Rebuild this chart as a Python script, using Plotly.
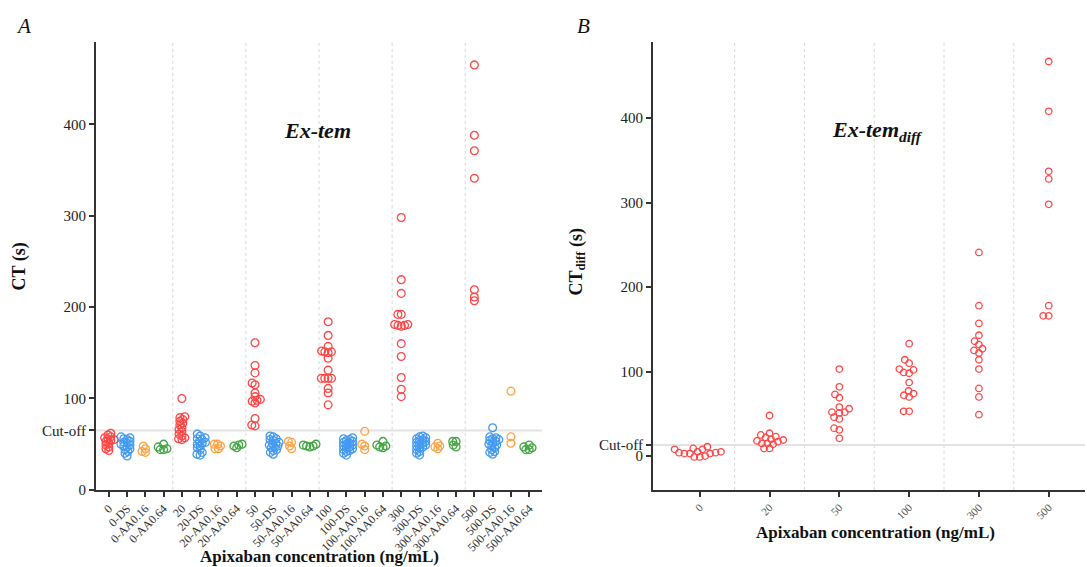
import numpy as np
import plotly.graph_objects as go

# ---------------- data ----------------
conc = ["0", "20", "50", "100", "300", "500"]
suffixes = ["", "-DS", "-AA0.16", "-AA0.64"]
cut_off_A = 65
cut_off_B = 13

# Panel A: CT (s)
ct_0 = [62, 60, 58, 57, 56, 55, 54, 53, 51, 49, 47, 45, 43]
ct_0_ds = [58, 57, 56, 55, 53, 52, 51, 50, 49, 48, 47, 45, 44, 42, 40, 37]
ct_0_aa016 = [48, 45, 42, 41]
ct_0_aa064 = [50, 47, 45, 44, 44]
ct_20 = [100, 80, 79, 77, 75, 73, 71, 68, 66, 64, 61, 59, 57, 56, 55]
ct_20_ds = [61, 59, 57, 56, 55, 53, 52, 51, 50, 48, 46, 44, 41, 39, 38]
ct_20_aa016 = [50, 50, 48, 45, 45]
ct_20_aa064 = [50, 49, 48, 46]
ct_50 = [161, 136, 128, 117, 115, 106, 102, 99, 98, 97, 95, 78, 71, 70]
ct_50_ds = [59, 58, 56, 55, 54, 52, 51, 50, 49, 48, 47, 46, 44, 43, 41, 39]
ct_50_aa016 = [53, 52, 48, 45]
ct_50_aa064 = [50, 49, 48, 48, 47]
ct_100 = [184, 169, 157, 152, 151, 151, 150, 144, 131, 122, 122, 122, 122, 111, 106, 93]
ct_100_ds = [57, 56, 55, 54, 53, 52, 51, 50, 49, 48, 47, 46, 45, 44, 43, 42, 40, 38]
ct_100_aa016 = [64, 50, 48, 44]
ct_100_aa064 = [53, 49, 48, 47, 46]
ct_300 = [298, 230, 215, 192, 192, 181, 181, 180, 180, 179, 160, 146, 123, 110, 102]
ct_300_ds = [59, 58, 57, 56, 55, 54, 53, 52, 51, 50, 49, 48, 47, 46, 44, 42, 40, 38]
ct_300_aa016 = [51, 48, 47, 45]
ct_300_aa064 = [53, 53, 49, 47]
ct_500 = [465, 388, 371, 341, 219, 211, 207]
ct_500_ds = [68, 58, 57, 56, 55, 54, 53, 52, 50, 49, 48, 46, 44, 42, 41, 39]
ct_500_aa016 = [108, 58, 51]
ct_500_aa064 = [49, 47, 46, 44, 44]

# Panel B: CT diff (s)
ctd_0 = [11, 9, 8, 8, 5, 5, 4, 4, 3, 3, 3, 0, -1, -1]
ctd_20 = [48, 27, 25, 23, 22, 20, 19, 18, 17, 15, 15, 14, 9, 9]
ctd_50 = [103, 82, 73, 69, 58, 56, 52, 52, 51, 46, 44, 33, 31, 21]
ctd_100 = [133, 114, 110, 103, 102, 99, 98, 87, 77, 74, 72, 70, 53, 53]
ctd_300 = [241, 178, 157, 143, 136, 132, 127, 125, 122, 114, 103, 80, 70, 49]
ctd_500 = [467, 408, 337, 328, 298, 178, 166, 166]

groupsA = [
    ct_0, ct_0_ds, ct_0_aa016, ct_0_aa064,
    ct_20, ct_20_ds, ct_20_aa016, ct_20_aa064,
    ct_50, ct_50_ds, ct_50_aa016, ct_50_aa064,
    ct_100, ct_100_ds, ct_100_aa016, ct_100_aa064,
    ct_300, ct_300_ds, ct_300_aa016, ct_300_aa064,
    ct_500, ct_500_ds, ct_500_aa016, ct_500_aa064,
]
groupsB = [ctd_0, ctd_20, ctd_50, ctd_100, ctd_300, ctd_500]
catsA = [c + s for c in conc for s in suffixes]

# ---------------- layout geometry (reference pixel frame 1087x567) ----------------
W, H = 1087, 567
FIG_H = 576
A_x0, A_x1 = 96, 542
B_x0, B_x1 = 653, 1085
Y_top, Y_bot = 42, 489
A_xrange = [-0.7, 23.7]
B_xrange = [-0.67, 5.52]
A_yrange = [0, 490]
B_yrange = [-40, 490]

colors = ["#ff3333", "#2f8ff0", "#ff9a33", "#2e9e2e"]
FONT = '"Liberation Serif", "Times New Roman", serif'


def swarm(vals, d, ypx, xpx):
    y = np.asarray(vals, float) * ypx
    order = np.argsort(y, kind="stable")
    xs = np.zeros(len(y))
    placed = []
    for i in order:
        cands = [0.0]
        for yj, xj in placed:
            dy = y[i] - yj
            if abs(dy) < d:
                w = np.sqrt(d * d - dy * dy)
                cands += [xj - w, xj + w]
        cands.sort(key=abs)
        chosen = 0.0
        for c in cands:
            if all((c - xj) ** 2 + (y[i] - yj) ** 2 >= d * d - 1e-6 for yj, xj in placed):
                chosen = c
                break
        xs[i] = chosen
        placed.append((y[i], chosen))
    return xs / xpx


A_ypx = (Y_bot - Y_top) / (A_yrange[1] - A_yrange[0])
A_xpx = (A_x1 - A_x0) / (A_xrange[1] - A_xrange[0])
B_ypx = (Y_bot - Y_top) / (B_yrange[1] - B_yrange[0])
B_xpx = (B_x1 - B_x0) / (B_xrange[1] - B_xrange[0])

fig = go.Figure()

for i, vals in enumerate(groupsA):
    off = swarm(vals, 3.4, A_ypx, A_xpx)
    fig.add_trace(go.Scatter(
        x=i + off, y=vals, mode="markers", xaxis="x", yaxis="y",
        marker=dict(symbol="circle-open", size=7.8, color=colors[i % 4],
                    line=dict(width=1.3, color=colors[i % 4])),
        opacity=0.9, showlegend=False, hoverinfo="y"))

for i, vals in enumerate(groupsB):
    off = swarm(vals, 5.5, B_ypx, B_xpx)
    fig.add_trace(go.Scatter(
        x=i + off, y=vals, mode="markers", xaxis="x2", yaxis="y2",
        marker=dict(symbol="circle-open", size=6.5, color=colors[0],
                    line=dict(width=1.3, color=colors[0])),
        opacity=0.9, showlegend=False, hoverinfo="y"))

shapes = []
for k in range(1, len(conc)):
    shapes.append(dict(type="line", xref="x", yref="y domain", x0=4 * k - 0.5, x1=4 * k - 0.5,
                       y0=0, y1=1, line=dict(color="#d6d6d6", width=1, dash="dot"), layer="below"))
    shapes.append(dict(type="line", xref="x2", yref="y2 domain", x0=k - 0.5, x1=k - 0.5,
                       y0=0, y1=1, line=dict(color="#d6d6d6", width=1, dash="dot"), layer="below"))
shapes.append(dict(type="line", xref="x domain", yref="y", x0=0, x1=1, y0=cut_off_A, y1=cut_off_A,
                   line=dict(color="#e3e3e3", width=2), layer="below"))
shapes.append(dict(type="line", xref="x2 domain", yref="y2", x0=0, x1=1, y0=cut_off_B, y1=cut_off_B,
                   line=dict(color="#e3e3e3", width=2), layer="below"))

axis_common = dict(showline=True, linecolor="#333333", linewidth=2, ticks="outside",
                   ticklen=5, tickwidth=1.5, tickcolor="#333333", showgrid=False,
                   zeroline=False, fixedrange=True)

fig.update_layout(
    width=W, height=FIG_H, margin=dict(l=0, r=0, t=0, b=0),
    paper_bgcolor="white", plot_bgcolor="white",
    font=dict(family=FONT, color="#222222"),
    shapes=shapes,
    xaxis=dict(domain=[A_x0 / W, A_x1 / W], range=A_xrange, anchor="y",
               tickmode="array", tickvals=list(range(len(catsA))), ticktext=catsA,
               tickangle=-45, tickfont=dict(size=12, color="#333333"), **axis_common),
    yaxis=dict(domain=[1 - Y_bot / H, 1 - Y_top / H], range=A_yrange, anchor="x",
               tickmode="array", tickvals=[0, cut_off_A, 100, 200, 300, 400],
               ticktext=["0", "Cut-off", "100", "200", "300", "400"],
               tickfont=dict(size=15, color="#222222"), **axis_common),
    xaxis2=dict(domain=[B_x0 / W, B_x1 / W], range=B_xrange, anchor="y2",
                tickmode="array", tickvals=list(range(len(conc))), ticktext=conc,
                tickangle=-45, tickfont=dict(size=11, color="#555555"), **axis_common),
    yaxis2=dict(domain=[1 - Y_bot / H, 1 - Y_top / H], range=B_yrange, anchor="x2",
                tickmode="array", tickvals=[0, cut_off_B, 100, 200, 300, 400],
                ticktext=["0", "Cut-off", "100", "200", "300", "400"],
                tickfont=dict(size=15, color="#222222"), **axis_common),
)

ann = [
    dict(text="<i>A</i>", x=23 / W, y=1 - 26 / H, size=21),
    dict(text="<i>B</i>", x=583 / W, y=1 - 26 / H, size=21),
    dict(text="<b><i>Ex-tem</i></b>", x=318 / W, y=1 - 130 / H, size=22),
    dict(text="<b><i>Ex-tem<sub>diff</sub></i></b>", x=877 / W, y=1 - 131 / H, size=22),
    dict(text="<b>Apixaban concentration (ng/mL)</b>", x=319 / W, y=1 - 556 / H, size=17),
    dict(text="<b>Apixaban concentration (ng/mL)</b>", x=875 / W, y=1 - 532 / H, size=17),
]
annotations = []
for a in ann:
    annotations.append(dict(text=a["text"], x=a["x"], y=a["y"], xref="paper", yref="paper",
                            showarrow=False, xanchor="center", yanchor="middle",
                            font=dict(family=FONT, size=a["size"], color="#111111")))
annotations.append(dict(text="<b>CT (s)</b>", x=19 / W, y=1 - 266 / H, xref="paper", yref="paper",
                        showarrow=False, textangle=-90, xanchor="center", yanchor="middle",
                        font=dict(family=FONT, size=18, color="#111111")))
annotations.append(dict(text="<b>CT<sub>diff</sub> (s)</b>", x=577 / W, y=1 - 262 / H,
                        xref="paper", yref="paper", showarrow=False, textangle=-90,
                        xanchor="center", yanchor="middle",
                        font=dict(family=FONT, size=18, color="#111111")))
fig.update_layout(annotations=annotations)

fig.write_html("out.html")
